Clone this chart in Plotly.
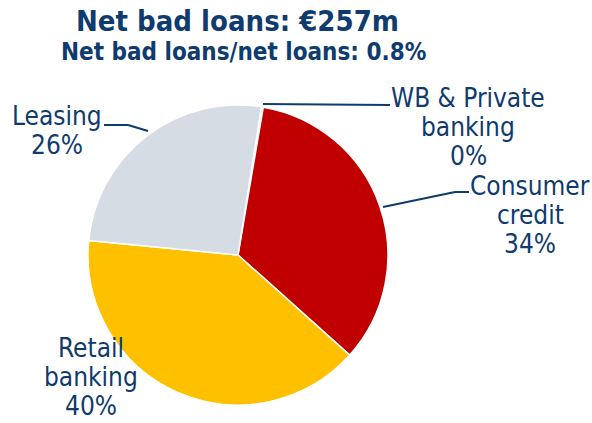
import plotly.graph_objects as go

# segments, clockwise from just right of 12 o'clock
segments = ["WB & Private<br>banking", "Consumer<br>credit", "Retail<br>banking", "Leasing"]
shares = [0.2, 34, 40, 26]
colors = ["#D6DCE4", "#C00000", "#FFC000", "#D6DCE4"]

title = "Net bad loans: €257m"
subtitle = "Net bad loans/net loans: 0.8%"

# centre x and first-line y (pixels) of each outside label
label_pos = {
    "WB & Private<br>banking": (468, 98),
    "Consumer<br>credit": (530, 186),
    "Retail<br>banking": (91, 348),
    "Leasing": (57, 116),
}

W, H = 592, 423
NAVY = "#0F3B6E"
FONT = "DejaVu Sans Condensed, DejaVu Sans"
LINE = 29


def px(x, y):
    return x / W, 1 - y / H


fig = go.Figure(go.Pie(
    labels=segments,
    values=shares,
    sort=False,
    direction="clockwise",
    rotation=9,
    marker=dict(colors=colors, line=dict(color="white", width=1.5)),
    textinfo="none",
    hoverinfo="label+percent",
    domain=dict(x=[88 / W, 388 / W], y=[1 - 407 / H, 1 - 103 / H]),
    showlegend=False,
))

for name, v in zip(segments, shares):
    lines = name.split("<br>") + [f"{round(v)}%"]
    cx, cy = label_pos[name]
    for i, line in enumerate(lines):
        x, y = px(cx, cy + i * LINE)
        fig.add_annotation(
            x=x, y=y, xref="paper", yref="paper",
            text=line, showarrow=False,
            font=dict(family=FONT, size=26, color=NAVY),
            xanchor="center", yanchor="middle",
        )

# leader lines
leaders = [
    [(104, 125), (128, 125), (148, 131)],
    [(263, 104), (390, 105)],
    [(383, 207), (455, 192), (469, 192)],
]
for pts in leaders:
    for (x0, y0), (x1, y1) in zip(pts[:-1], pts[1:]):
        a0, b0 = px(x0, y0)
        a1, b1 = px(x1, y1)
        fig.add_shape(type="line", xref="paper", yref="paper",
                      x0=a0, y0=b0, x1=a1, y1=b1,
                      line=dict(color=NAVY, width=2))

tx, ty = px(237, 21)
fig.add_annotation(x=tx, y=ty, xref="paper", yref="paper", text=f"<b>{title}</b>",
                   showarrow=False, xanchor="center", yanchor="middle",
                   font=dict(family=FONT, size=29, color=NAVY))
sx, sy = px(243, 52)
fig.add_annotation(x=sx, y=sy, xref="paper", yref="paper", text=f"<b>{subtitle}</b>",
                   showarrow=False, xanchor="center", yanchor="middle",
                   font=dict(family=FONT, size=24, color=NAVY))

fig.update_layout(
    width=W, height=H,
    margin=dict(l=0, r=0, t=0, b=0),
    paper_bgcolor="white",
    plot_bgcolor="white",
)

fig.write_html("out.html", config={"displayModeBar": False},
               post_script="document.body.style.margin='0';")
